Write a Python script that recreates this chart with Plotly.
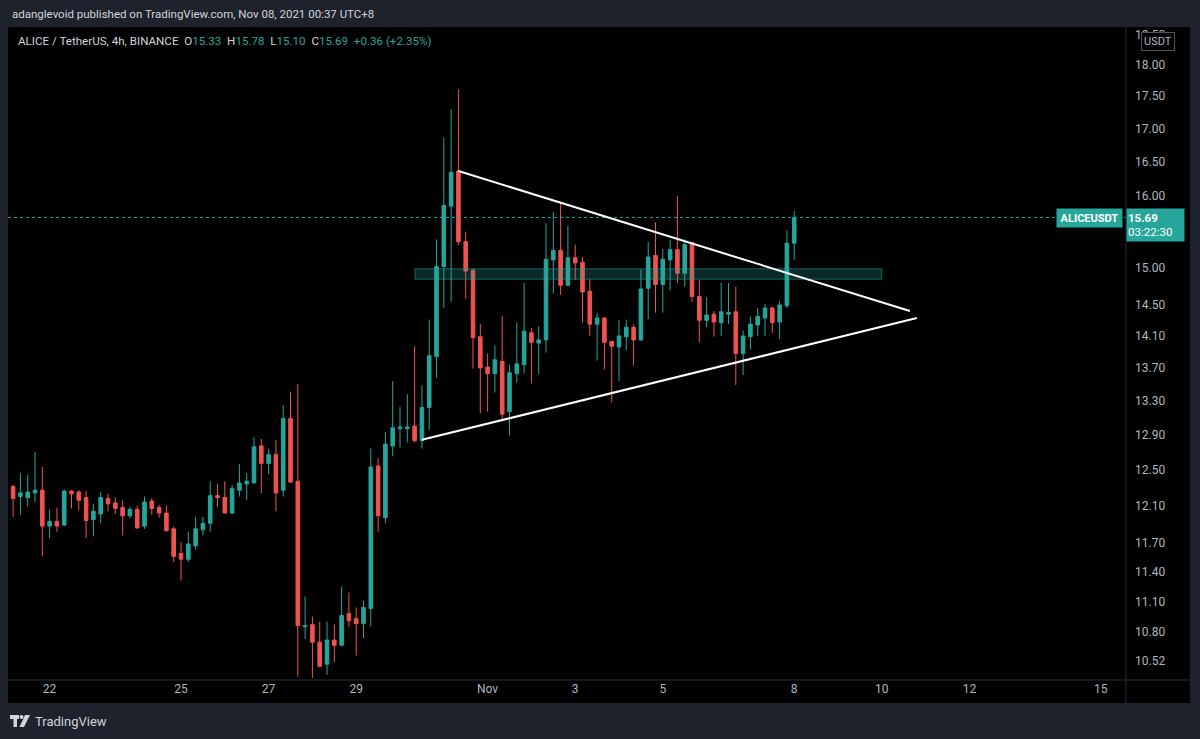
import math
import pandas as pd
import plotly.graph_objects as go

# ---------------- data ----------------
opens = [12.31, 12.20, 12.19, 12.24, 12.27, 11.88, 11.93, 11.89, 12.26, 12.25,
         12.19, 11.95, 12.01, 12.18, 12.13, 12.08, 11.99, 12.06, 11.88, 12.15,
         12.08, 12.02, 11.85, 11.59, 11.53, 11.67, 11.84, 11.91, 12.21, 12.19,
         12.02, 12.27, 12.34, 12.35, 12.77, 12.57, 12.67, 12.27, 13.09, 12.37,
         10.85, 10.87, 10.70, 10.49, 10.72, 10.67, 10.98, 10.93, 10.88, 11.03,
         12.54, 11.97, 12.77, 12.97, 12.97, 13.00, 12.83, 13.22, 13.84, 15.01,
         15.85, 16.36, 15.35, 14.96, 14.09, 13.71, 13.63, 13.78, 13.17, 13.63,
         13.74, 14.14, 14.01, 14.05, 15.10, 15.23, 14.76, 15.13, 15.07, 14.68,
         14.25, 14.33, 14.03, 13.96, 14.09, 14.21, 14.05, 14.72, 15.16, 14.77,
         15.10, 15.24, 14.92, 15.34, 14.61, 14.30, 14.38, 14.27, 14.38, 14.41,
         13.88, 14.09, 14.24, 14.33, 14.46, 14.28, 14.49, 15.33]
highs = [12.33, 12.46, 12.44, 12.70, 12.53, 12.06, 12.08, 12.28, 12.27, 12.27,
         12.26, 12.12, 12.25, 12.23, 12.19, 12.16, 12.09, 12.10, 12.20, 12.18,
         12.11, 12.10, 11.87, 11.71, 11.82, 11.98, 11.98, 12.37, 12.34, 12.37,
         12.33, 12.56, 12.46, 12.87, 12.85, 12.74, 12.84, 13.25, 13.41, 13.50,
         11.15, 10.95, 10.90, 10.90, 10.87, 11.25, 11.19, 11.04, 11.11, 12.74,
         12.63, 12.93, 13.54, 13.23, 13.38, 13.97, 13.49, 14.31, 15.38, 16.86,
         17.30, 17.61, 15.49, 14.98, 14.25, 13.88, 13.98, 14.36, 13.74, 14.27,
         14.79, 14.20, 14.22, 15.61, 15.77, 15.90, 15.57, 15.31, 15.14, 14.84,
         14.40, 14.34, 14.04, 14.30, 14.31, 14.25, 14.97, 15.35, 15.62, 15.25,
         15.38, 16.00, 15.38, 15.35, 14.83, 14.60, 14.42, 14.79, 14.79, 14.74,
         14.17, 14.35, 14.46, 14.51, 14.48, 14.55, 15.51, 15.78]
lows = [11.98, 12.00, 12.09, 12.14, 11.56, 11.75, 11.82, 11.88, 12.07, 12.05,
        11.75, 11.77, 11.91, 12.04, 12.01, 11.78, 11.96, 11.85, 11.85, 12.00,
        11.97, 11.82, 11.50, 11.31, 11.50, 11.63, 11.78, 11.82, 12.09, 12.02,
        12.01, 12.20, 12.16, 12.35, 12.24, 12.45, 12.04, 12.20, 12.35, 10.37,
        10.73, 10.36, 10.46, 10.39, 10.51, 10.66, 10.85, 10.57, 10.74, 10.85,
        11.82, 11.91, 12.65, 12.75, 12.81, 12.81, 12.74, 12.95, 13.58, 14.46,
        14.54, 15.30, 14.58, 13.69, 13.15, 13.17, 13.40, 13.08, 12.89, 13.52,
        13.63, 13.51, 13.62, 13.89, 14.65, 14.63, 14.75, 14.83, 14.27, 14.10,
        13.79, 13.68, 13.28, 13.54, 13.92, 13.73, 14.04, 14.31, 14.40, 14.40,
        14.69, 14.79, 14.74, 14.54, 14.02, 14.21, 14.09, 14.10, 14.25, 13.49,
        13.61, 13.93, 14.10, 14.10, 14.14, 14.06, 14.46, 15.10]
closes = [12.18, 12.24, 12.25, 12.27, 11.88, 11.93, 11.88, 12.26, 12.23, 12.16,
          11.94, 12.04, 12.19, 12.12, 12.07, 11.99, 12.06, 11.86, 12.14, 12.07,
          12.02, 11.83, 11.56, 11.53, 11.69, 11.85, 11.91, 12.21, 12.19, 12.02,
          12.29, 12.35, 12.37, 12.76, 12.57, 12.67, 12.24, 13.09, 12.36, 10.86,
          10.86, 10.70, 10.47, 10.72, 10.67, 10.96, 10.91, 10.88, 11.04, 12.53,
          11.99, 12.79, 12.98, 12.99, 12.99, 12.83, 13.22, 13.85, 15.01, 15.86,
          16.34, 15.35, 14.95, 14.08, 13.70, 13.63, 13.80, 13.14, 13.64, 13.75,
          14.16, 14.02, 14.05, 15.11, 15.23, 14.76, 15.13, 15.06, 14.67, 14.25,
          14.33, 14.02, 13.97, 14.10, 14.21, 14.05, 14.71, 15.14, 14.77, 15.11,
          15.24, 14.92, 15.31, 14.61, 14.30, 14.37, 14.28, 14.41, 14.40, 13.88,
          14.10, 14.25, 14.35, 14.46, 14.27, 14.50, 15.33, 15.69]
last_bar = "2021-11-08 00:00"

# drawings (time, price)
upper_line_t = ["2021-10-31 08:00", "2021-11-10 15:24"]
upper_line_p = [16.36, 14.42]
lower_line_t = ["2021-10-30 12:00", "2021-11-10 19:12"]
lower_line_p = [12.84, 14.33]
zone_t = ["2021-10-30 08:12", "2021-11-10 00:00"]
zone_p = [14.84, 14.98]
last_price = 15.69

y_tick_vals = [18.50, 18.00, 17.50, 17.00, 16.50, 16.00, 15.00, 14.50, 14.10, 13.70,
               13.30, 12.90, 12.50, 12.10, 11.70, 11.40, 11.10, 10.80, 10.52]
y_tick_text = ["%.2f" % v for v in y_tick_vals]
x_tick_vals = ["2021-10-22", "2021-10-25", "2021-10-27", "2021-10-29", "2021-11-01",
               "2021-11-03", "2021-11-05", "2021-11-08", "2021-11-10", "2021-11-12",
               "2021-11-15"]
x_tick_text = ["22", "25", "27", "29", "Nov", "3", "5", "8", "10", "12", "15"]

x_range = ["2021-10-21 01:12", "2021-11-15 13:48"]
y_range = [10.341, 18.627]

# ---------------- styling ----------------
UP = "#26a69a"
DOWN = "#ef5350"
TXT = "#d1d4dc"
AX = "#b2b5be"
OUTER = "#1e222d"
SEP = "#2a2e39"
FONT = "Roboto"

W, H = 1200, 739
L, R, T, B = 8, 74, 27, 59
PW, PH = W - L - R, H - T - B


def px(xp):
    return (xp - L) / PW


def py(yp):
    return (H - B - yp) / PH


times = pd.date_range(end=last_bar, periods=len(opens), freq="4h")

fig = go.Figure()
fig.add_trace(go.Candlestick(
    x=times, open=opens, high=highs, low=lows, close=closes,
    increasing=dict(line=dict(color=UP, width=1), fillcolor=UP),
    decreasing=dict(line=dict(color=DOWN, width=1), fillcolor=DOWN),
    whiskerwidth=0, showlegend=False, hoverinfo="skip"))

# last-price dotted line
fig.add_trace(go.Scatter(x=[x_range[0], x_range[1]], y=[last_price, last_price],
                         mode="lines", line=dict(color=UP, width=1, dash="dot"),
                         showlegend=False, hoverinfo="skip"))
# horizontal zone
fig.add_trace(go.Scatter(
    x=[zone_t[0], zone_t[1], zone_t[1], zone_t[0], zone_t[0]],
    y=[zone_p[0], zone_p[0], zone_p[1], zone_p[1], zone_p[0]],
    mode="lines", fill="toself", fillcolor="rgba(38,166,154,0.25)",
    line=dict(color="rgba(38,166,154,0.55)", width=1),
    showlegend=False, hoverinfo="skip"))
# triangle lines
fig.add_trace(go.Scatter(x=upper_line_t, y=upper_line_p, mode="lines",
                         line=dict(color="#ffffff", width=2),
                         showlegend=False, hoverinfo="skip"))
fig.add_trace(go.Scatter(x=lower_line_t, y=lower_line_p, mode="lines",
                         line=dict(color="#ffffff", width=2),
                         showlegend=False, hoverinfo="skip"))

shapes = [
    # black chart panel
    dict(type="rect", xref="paper", yref="paper", x0=px(8), x1=px(1190),
         y0=py(703), y1=py(27), fillcolor="#000000", line=dict(width=0), layer="below"),
    # separators
    dict(type="line", xref="paper", yref="paper", x0=px(1126), x1=px(1126),
         y0=py(703), y1=py(27), line=dict(color=SEP, width=1)),
    dict(type="line", xref="paper", yref="paper", x0=px(8), x1=px(1190),
         y0=py(680), y1=py(680), line=dict(color=SEP, width=1)),
    # TradingView logo (approximate)
    dict(type="rect", xref="paper", yref="paper", x0=px(10), x1=px(19),
         y0=py(719), y1=py(715), fillcolor=TXT, line=dict(width=0)),
    dict(type="rect", xref="paper", yref="paper", x0=px(13.5), x1=px(17),
         y0=py(727), y1=py(715), fillcolor=TXT, line=dict(width=0)),
    dict(type="circle", xref="paper", yref="paper", x0=px(19.5), x1=px(23.5),
         y0=py(719), y1=py(715), fillcolor=TXT, line=dict(width=0)),
    dict(type="path", xref="paper", yref="paper",
         path="M %f %f L %f %f L %f %f L %f %f Z" % (px(25), py(715), px(30), py(715),
                                                     px(24), py(727), px(19.5), py(727)),
         fillcolor=TXT, line=dict(width=0)),
]

legend_txt = ("ALICE / TetherUS, 4h, BINANCE&nbsp;&nbsp;"
              "O<span style='color:%s'>15.33</span>&nbsp;&nbsp;"
              "H<span style='color:%s'>15.78</span>&nbsp;&nbsp;"
              "L<span style='color:%s'>15.10</span>&nbsp;&nbsp;"
              "C<span style='color:%s'>15.69</span>&nbsp;&nbsp;"
              "<span style='color:%s'>+0.36 (+2.35%%)</span>") % (UP, UP, UP, UP, UP)

annotations = [
    dict(xref="paper", yref="paper", x=px(10), y=py(14), xanchor="left", yanchor="middle",
         text="adanglevoid published on TradingView.com, Nov 08, 2021 00:37 UTC+8",
         showarrow=False, font=dict(family=FONT, size=11.5, color=TXT)),
    dict(xref="paper", yref="paper", x=px(16), y=py(41), xanchor="left", yanchor="middle",
         text=legend_txt, showarrow=False, font=dict(family=FONT, size=11.6, color=TXT)),
    dict(xref="paper", yref="y", x=px(1123), y=math.log10(last_price), xanchor="right",
         yanchor="middle", yshift=-1, text="<b>ALICEUSDT</b>", showarrow=False,
         bgcolor=UP, width=63, height=16, borderpad=1,
         font=dict(family=FONT, size=11, color="#ffffff")),
    dict(xref="paper", yref="y", x=px(1126), y=math.log10(last_price), xanchor="left",
         yanchor="top", yshift=9, text="<b>15.69</b><br>03:22:30", showarrow=False,
         align="left", bgcolor=UP, width=55, height=30, borderpad=1,
         font=dict(family=FONT, size=11.5, color="#ffffff")),
    dict(xref="paper", yref="paper", x=px(1158), y=py(41), xanchor="center",
         yanchor="middle", text="USDT", showarrow=False, bgcolor="#000000",
         bordercolor="#50535e", borderwidth=1, borderpad=2,
         font=dict(family=FONT, size=11, color=AX)),
    dict(xref="paper", yref="paper", x=px(33), y=py(721), xanchor="left",
         yanchor="middle", text="TradingView", showarrow=False,
         font=dict(family=FONT, size=13, color=TXT)),
]

fig.update_layout(
    width=W, height=H,
    margin=dict(l=L, r=R, t=T, b=B, pad=0),
    paper_bgcolor=OUTER, plot_bgcolor="#000000",
    showlegend=False, hovermode=False,
    shapes=shapes, annotations=annotations,
    xaxis=dict(type="date", range=x_range, tickvals=x_tick_vals, ticktext=x_tick_text,
               showgrid=False, zeroline=False, showline=False, ticks="",
               tickfont=dict(family=FONT, size=12, color=AX),
               rangeslider=dict(visible=False), fixedrange=True),
    yaxis=dict(type="log", side="right", range=[math.log10(y_range[0]), math.log10(y_range[1])],
               tickvals=y_tick_vals, ticktext=y_tick_text, showgrid=False, zeroline=False,
               showline=False, ticks="", ticklabelstandoff=8,
               tickfont=dict(family=FONT, size=12, color=AX), fixedrange=True),
)

fig.write_html("out.html", config={"displayModeBar": False},
               post_script="document.body.style.margin='0';document.body.style.background='%s';" % OUTER)
